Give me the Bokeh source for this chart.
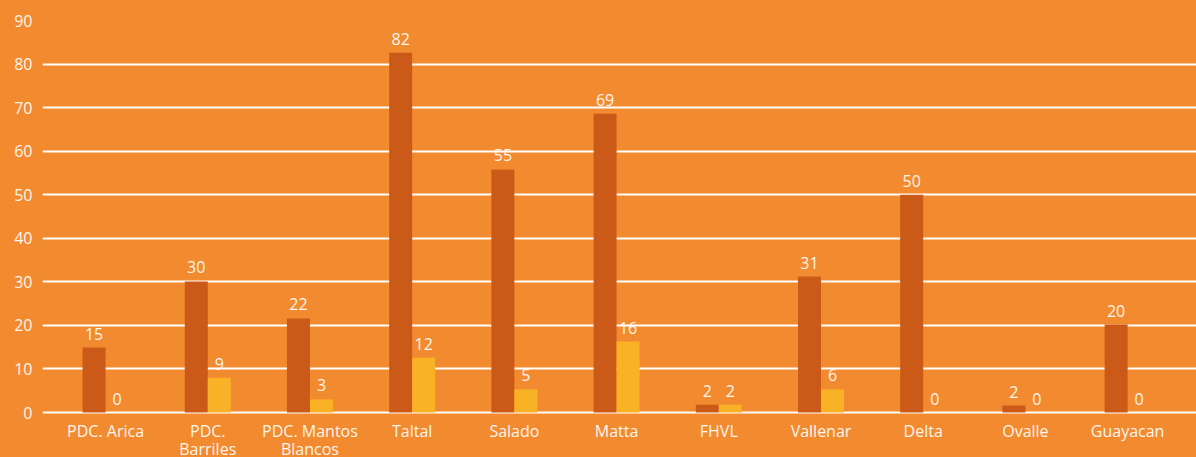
import numpy as np
from bokeh.plotting import figure
from bokeh.models import ColumnDataSource, Range1d, FixedTicker
from bokeh.core.properties import value
from bokeh.embed import file_html
from bokeh.resources import INLINE

# ---- data ----
categories = ["PDC. Arica", "PDC.\nBarriles", "PDC. Mantos\nBlancos", "Taltal", "Salado",
              "Matta", "FHVL", "Vallenar", "Delta", "Ovalle", "Guayacan"]
series_a = [14.9, 30.1, 21.6, 82.6, 55.8, 68.6, 1.8, 31.2, 50.0, 1.6, 20.2]
series_b = [0.0, 8.0, 3.0, 12.6, 5.3, 16.3, 1.8, 5.3, 0.0, 0.0, 0.0]
labels_a = ["15", "30", "22", "82", "55", "69", "2", "31", "50", "2", "20"]
labels_b = ["0", "9", "3", "12", "5", "16", "2", "6", "0", "0", "0"]
y_ticks = [0, 10, 20, 30, 40, 50, 60, 70, 80, 90]

BG = "#F28A2F"
DARK = "#CB5A18"
YELLOW = "#F9B225"
TXT = "#FFF6EE"
FONT = "Open Sans"

idx = np.arange(len(categories))
line1 = [c.split("\n")[0] for c in categories]
line2 = [c.split("\n")[1] if "\n" in c else "" for c in categories]

src = ColumnDataSource(dict(
    x=idx, xa=idx - 0.1125, xb=idx + 0.1125, zero=[0] * len(idx),
    a=series_a, b=series_b, la=labels_a, lb=labels_b, l1=line1, l2=line2,
))

# frame reaches the bottom edge; the value axis is drawn only from 0 to 90
p = figure(width=1196, height=457, output_backend="svg", toolbar_location=None,
           x_range=Range1d(-0.617, 10.674), y_range=Range1d(-10.33, 90),
           min_border_left=42, min_border_right=0, min_border_top=20, min_border_bottom=0)
p.background_fill_color = BG
p.border_fill_color = BG
p.outline_line_color = None

p.vbar(x="xa", top="a", bottom=0, width=0.225, source=src, fill_color=DARK, line_color=None)
p.vbar(x="xb", top="b", bottom=0, width=0.225, source=src, fill_color=YELLOW, line_color=None)

p.text(x="xa", y="a", text="la", source=src, text_align="center", text_baseline="alphabetic",
       y_offset=-14, text_font=value(FONT), text_font_size="16px", text_color=TXT)
p.text(x="xb", y="b", text="lb", source=src, text_align="center", text_baseline="alphabetic",
       y_offset=-14, text_font=value(FONT), text_font_size="16px", text_color=TXT)

# category labels (two lines for wrapped names)
p.text(x="x", y="zero", text="l1", source=src, text_align="center", text_baseline="middle",
       y_offset=18.5, text_font=value(FONT), text_font_size="16px", text_color=TXT)
p.text(x="x", y="zero", text="l2", source=src, text_align="center", text_baseline="middle",
       y_offset=36, text_font=value(FONT), text_font_size="16px", text_color=TXT)

# grid
p.xgrid.grid_line_color = None
p.ygrid.ticker = FixedTicker(ticks=y_ticks)
p.ygrid.grid_line_color = "white"
p.ygrid.grid_line_width = 2

# axes
p.xaxis.visible = False
p.yaxis.ticker = FixedTicker(ticks=y_ticks)
p.yaxis.axis_line_color = None
p.yaxis.major_tick_line_color = None
p.yaxis.minor_tick_line_color = None
p.yaxis.major_tick_out = 0
p.yaxis.major_tick_in = 0
p.yaxis.major_label_text_font = FONT
p.yaxis.major_label_text_font_size = "16px"
p.yaxis.major_label_text_color = TXT
p.yaxis.major_label_standoff = 10

html = file_html(p, INLINE)
html = html.replace("<head>", "<head><style>html,body{margin:0;padding:0;overflow:hidden;background:%s}</style>" % BG, 1)
open("out.html", "w").write(html)
